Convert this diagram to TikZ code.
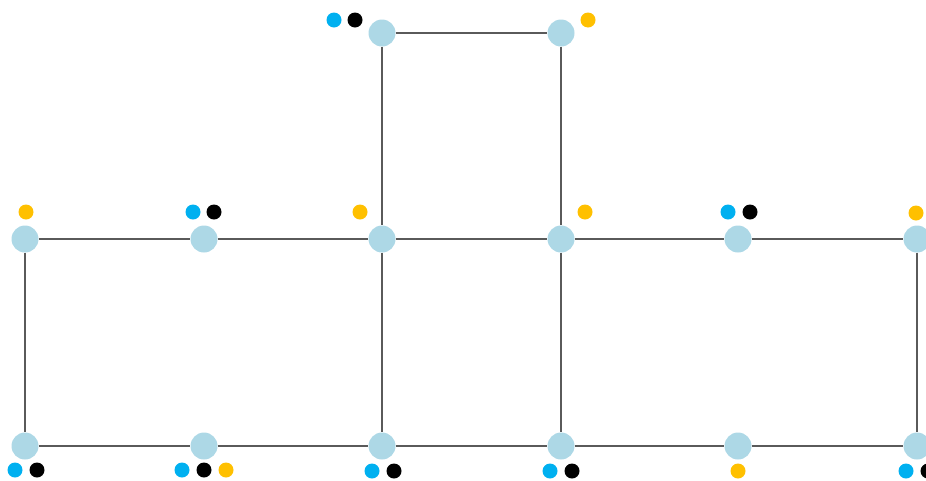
\documentclass[tikz,border=0pt]{standalone}
\usepackage{tikz}
\usetikzlibrary{positioning}
\definecolor{vertexC}{RGB}{173, 216, 230}
\definecolor{markA}{RGB}{0, 176, 240}
\definecolor{markB}{RGB}{0, 0, 0}
\definecolor{markC}{RGB}{255, 192, 0}
\definecolor{edgeC}{RGB}{90, 90, 90}
\begin{document}
\begin{tikzpicture}[x=1pt, y=-1pt,
  vertex/.style={circle, fill=vertexC, inner sep=0pt, minimum size=27pt},
  mark/.style={circle, fill=#1, inner sep=0pt, minimum size=15pt},
  link/.style={draw=edgeC, line width=1.3pt}]
  \useasboundingbox (0,0) rectangle (926,480);
  % top pair
  \node[vertex] (t1) at (382,33) {};
  \node[vertex] (t2) at (561,33) {};
  % middle row
  \node[vertex] (m1) at (25,239) {};
  \node[vertex] (m2) at (204,239) {};
  \node[vertex] (m3) at (382,239) {};
  \node[vertex] (m4) at (561,239) {};
  \node[vertex] (m5) at (738,239) {};
  \node[vertex] (m6) at (917,239) {};
  % bottom row
  \node[vertex] (b1) at (25,446) {};
  \node[vertex] (b2) at (204,446) {};
  \node[vertex] (b3) at (382,446) {};
  \node[vertex] (b4) at (561,446) {};
  \node[vertex] (b5) at (738,446) {};
  \node[vertex] (b6) at (917,446) {};

  % edges
  \draw[link] (t1) -- (t2);
  \draw[link] (t1) -- (m3);
  \draw[link] (t2) -- (m4);
  \draw[link] (m1) -- (m2) -- (m3) -- (m4) -- (m5) -- (m6);
  \draw[link] (b1) -- (b2) -- (b3) -- (b4) -- (b5) -- (b6);
  \draw[link] (m1) -- (b1);
  \draw[link] (m3) -- (b3);
  \draw[link] (m4) -- (b4);
  \draw[link] (m6) -- (b6);

  % marks above/below the vertices
  \node[mark=markA] (t1a) at (334,20) {};
  \node[mark=markB] (t1b) at (355,20) {};
  \node[mark=markC] (t2c) at (588,20) {};

  \node[mark=markC] (m1c) at (26,212) {};
  \node[mark=markA] (m2a) at (193,212) {};
  \node[mark=markB] (m2b) at (214,212) {};
  \node[mark=markC] (m3c) at (360,212) {};
  \node[mark=markC] (m4c) at (585,212) {};
  \node[mark=markA] (m5a) at (728,212) {};
  \node[mark=markB] (m5b) at (750,212) {};
  \node[mark=markC] (m6c) at (916,213) {};

  \node[mark=markA] (b1a) at (15,470) {};
  \node[mark=markB] (b1b) at (37,470) {};
  \node[mark=markA] (b2a) at (182,470) {};
  \node[mark=markB] (b2b) at (204,470) {};
  \node[mark=markC] (b2c) at (226,470) {};
  \node[mark=markA] (b3a) at (372,471) {};
  \node[mark=markB] (b3b) at (394,471) {};
  \node[mark=markA] (b4a) at (550,471) {};
  \node[mark=markB] (b4b) at (572,471) {};
  \node[mark=markC] (b5c) at (738,471) {};
  \node[mark=markA] (b6a) at (906,471) {};
  \node[mark=markB] (b6b) at (928,471) {};
\end{tikzpicture}
\end{document}
